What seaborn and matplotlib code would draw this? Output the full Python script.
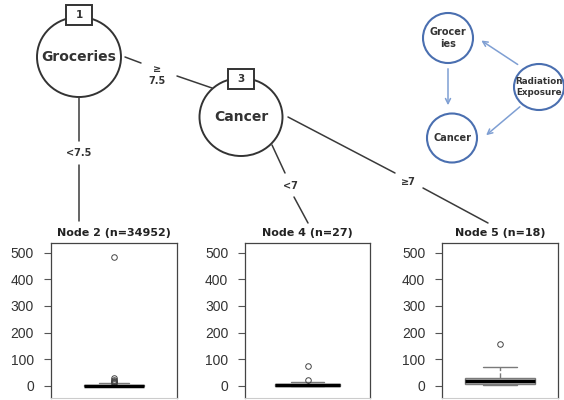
import matplotlib
matplotlib.use("Agg")
import matplotlib.pyplot as plt
from matplotlib.patches import Ellipse, Rectangle, FancyArrowPatch
import seaborn as sns

# Terminal node data (sample of the response values in each node)
node_titles = ["Node 2 (n=34952)", "Node 4 (n=27)", "Node 5 (n=18)"]
node2_vals = [0, 0, 0, 0, 0, 0, 0, 0, 0, 0, 0, 0, 0, 0, 0, 1, 1, 1, 1, 1, 1,
              1, 1, 1, 2, 2, 2, 2, 2, 3, 3, 4, 6, 8, 10, 12, 14, 16, 19, 22,
              30, 485]
node4_vals = [0, 0, 0, 1, 1, 1, 1, 2, 2, 2, 2, 3, 3, 3, 3, 4, 4, 5, 5, 6, 6,
              6, 7, 9, 14, 22, 75]
node5_vals = [2, 4, 6, 7, 8, 10, 14, 17, 19, 20, 22, 25, 28, 30, 33, 45, 70,
              158]
y_ticks = [0, 100, 200, 300, 400, 500]

# Tree labels
split_vars = ["Groceries", "Cancer"]
split_ids = ["1", "3"]
edge_labels = ["<7.5", "\u2265\n7.5", "<7", "\u22657"]

# Causal diagram labels
dag_nodes = ["Grocer\nies", "Cancer", "Radiation\nExposure"]

sns.set_theme(style="white")
plt.rcParams["font.family"] = ["DejaVu Sans"]

fig = plt.figure(figsize=(5.64, 4.0), dpi=100)

# boxplot panels (pixel boxes: left, width)
panel_px = [(50.7, 126.3), (245, 125), (442, 116)]
box_w = [0.48, 0.52, 0.6]
values = [node2_vals, node4_vals, node5_vals]
grey = "#7a7a7a"
for (left, width), vals, title, bw in zip(panel_px, values, node_titles, box_w):
    ax = fig.add_axes([left / 564, 2 / 400, width / 564, 155 / 400])
    sns.boxplot(y=vals, ax=ax, width=bw, color="#d3d3d3", linecolor=grey,
                linewidth=1, whis=2, fliersize=4,
                flierprops=dict(marker="o", markerfacecolor="none",
                                markeredgecolor="#444444", markeredgewidth=0.7),
                whiskerprops=dict(color=grey, linestyle="--"),
                capprops=dict(color=grey),
                medianprops=dict(linewidth=2.5, color="black"))
    ax.set_xlim(-0.5, 0.5)
    ax.set_ylim(-45, 536)
    ax.set_yticks(y_ticks)
    ax.set_xticks([])
    ax.set_ylabel("")
    ax.tick_params(axis="y", left=True, length=5, width=0.8, color="#555555",
                   pad=7, labelsize=10, labelcolor="#333333")
    for lab in ax.get_yticklabels():
        lab.set_family(["Liberation Sans", "DejaVu Sans"])
    for side in ["top", "left", "right"]:
        ax.spines[side].set_color("#444444")
        ax.spines[side].set_linewidth(0.9)
    ax.spines["bottom"].set_color("#cccccc")
    ax.spines["bottom"].set_linewidth(0.8)
    ax.set_title(title, fontsize=8, fontweight="bold", pad=5, color="#222222")

# overlay in pixel coordinates for the tree and the diagram
ov = fig.add_axes([0, 0, 1, 1])
ov.set_xlim(0, 564)
ov.set_ylim(400, 0)
ov.axis("off")
ov.patch.set_alpha(0)

line_kw = dict(color="#3a3a3a", lw=1.1)
# edges
ov.plot([79, 79], [97, 141], **line_kw)
ov.plot([79, 79], [165, 221], **line_kw)
ov.plot([125, 141], [57, 63], **line_kw)
ov.plot([177, 212], [76, 88], **line_kw)
ov.plot([272, 285], [145, 173], **line_kw)
ov.plot([294, 308], [197, 223], **line_kw)
ov.plot([288, 395], [117, 173], **line_kw)
ov.plot([423, 488], [188, 223], **line_kw)

edge_pos = [(79, 153), (157, 75), (290, 186), (408, 182)]
for (x, y), lab in zip(edge_pos, edge_labels):
    ov.text(x, y, lab, ha="center", va="center", fontsize=7,
            fontweight="bold", color="#333333", linespacing=1.15)

# inner nodes
node_pos = [(79, 57, 84, 80), (241, 117, 83, 78)]
box_pos = [(79, 15), (241, 79)]
for (x, y, w, h), name, (bx, by), nid in zip(node_pos, split_vars, box_pos,
                                              split_ids):
    ov.add_patch(Ellipse((x, y), w, h, facecolor="white", edgecolor="#333333",
                         lw=1.4))
    ov.text(x, y, name, ha="center", va="center", fontsize=10,
            fontweight="bold", color="#333333")
    ov.add_patch(Rectangle((bx - 13, by - 10), 26, 20, facecolor="white",
                           edgecolor="#333333", lw=1.4))
    ov.text(bx, by, nid, ha="center", va="center", fontsize=7.5,
            fontweight="bold", color="#333333")

# causal diagram
blue = "#4a6fb0"
arrow_blue = "#7f9fd3"
dag_pos = [(448, 38, 50, 50), (452, 138, 50, 49), (539, 87, 50, 46)]
dag_fs = [7, 7, 6.3]
for (x, y, w, h), lab, fs in zip(dag_pos, dag_nodes, dag_fs):
    ov.add_patch(Ellipse((x, y), w, h, facecolor="white", edgecolor=blue,
                         lw=1.5))
    ov.text(x, y, lab, ha="center", va="center", fontsize=fs,
            fontweight="bold", color="#333333", linespacing=1.15)

arrows = [((448, 66), (448, 108)), ((520, 66), (479, 39)),
          ((522, 105), (484, 137))]
for start, end in arrows:
    ov.add_patch(FancyArrowPatch(start, end, arrowstyle="->",
                                 mutation_scale=9, color=arrow_blue, lw=1.1))

fig.savefig("out.png", dpi=100)
